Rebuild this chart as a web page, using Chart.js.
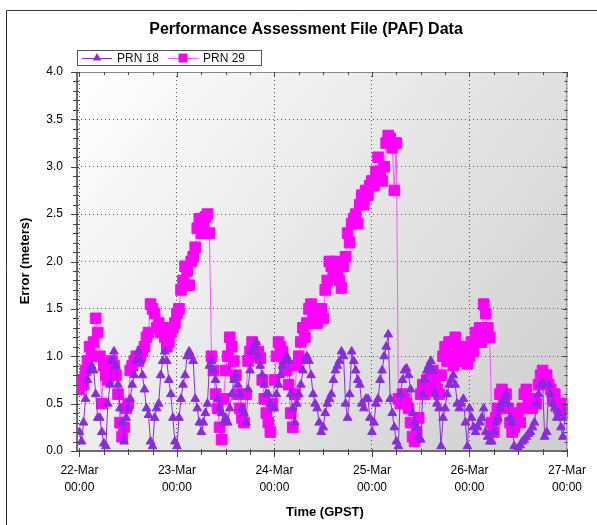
<!DOCTYPE html>
<html>
<head>
<meta charset="utf-8">
<script src="https://cdn.jsdelivr.net/npm/chart.js@4.4.0/dist/chart.umd.min.js"></script>
<style>
  html, body { margin: 0; padding: 0; background: #fff; }
  #wrap { position: relative; width: 597px; height: 525px; overflow: hidden; }
</style>
</head>
<body>
<div id="wrap"><canvas id="pafChart" width="597" height="525"></canvas></div>
<script>
// PAF samples, one every half hour from 22-Mar 00:00 GPST
const stepHours = 0.5;
const dayLabels = ['22-Mar', '23-Mar', '24-Mar', '25-Mar', '26-Mar', '27-Mar'];
const timeLabel = '00:00';
const yTicks = [0, 0.5, 1.0, 1.5, 2.0, 2.5, 3.0, 3.5, 4.0];

// Error (meters), PRN 18
const prn18 = [
    0.2, 0.1, 0.3, 0.55, 0.75, 0.85, 0.9, 0.85, 0.6, 0.35, 0.35, 0.2,
    0.08, 0.05, 0.5, 0.7, 0.95, 1.05, 0.9, 0.7, 0.45, 0.3, 0.1, 0.35,
    0.45, 0.55, 0.7, 0.8, 0.95, 1.05, 0.95, 0.8, 0.65, 0.45, 0.38, 0.1,
    0.05, 0.35, 0.45, 0.5, 0.8, 0.95, 1.05, 0.95, 0.75, 0.6, 0.35, 0.1,
    0.05, 0.35, 0.55, 0.7, 0.8, 1.0, 1.05, 1.0, 0.95, 0.55, 0.45, 0.3,
    0.2, 0.3, 0.4, 0.5, 0.9, 0.95, 0.85, 0.75, 0.55, 0.45, 0.4, 0.3,
    0.35, 0.3, 0.45, 0.6, 0.75, 0.8, 0.7, 0.6, 0.45, 0.4, 0.3, 0.65,
    0.85, 1.05, 1.1, 1.15, 1.0, 0.9, 0.8, 0.7, 0.6, 0.6, 0.5, 0.45,
    0.45, 0.6, 0.7, 0.8, 0.9, 0.95, 1.0, 0.95, 0.6, 0.45, 0.3, 0.5,
    0.6, 0.7, 0.85, 0.95, 1.0, 0.95, 0.8, 0.6, 0.5, 0.45, 0.3, 0.2,
    0.25, 0.4, 0.5, 0.55, 0.6, 0.75, 0.85, 0.9, 0.95, 1.05, 1.0, 0.5,
    0.35, 0.6, 1.05, 0.95, 0.85, 0.75, 0.7, 0.5, 0.45, 0.55, 0.55, 0.35,
    0.2, 0.3, 0.5, 0.55, 0.75, 0.85, 1.0, 1.1, 1.23, 0.55, 0.4, 0.25,
    0.1, 0.05, 0.6, 0.75, 0.85, 0.87, 0.8, 0.65, 0.4, 0.3, 0.25, 0.15,
    0.12, 0.6, 0.75, 0.85, 0.9, 0.95, 0.85, 0.6, 0.5, 0.45, 0.05, 0.35,
    0.45, 0.6, 0.7, 0.75, 0.8, 0.7, 0.5, 0.45, 0.5, 0.55, 0.3, 0.05,
    0.45, 0.35, 0.25, 0.2, 0.25, 0.3, 0.35, 0.45, 0.2, 0.15, 0.1, 0.1,
    0.2, 0.3, 0.35, 0.45, 0.5, 0.55, 0.6, 0.5, 0.35, 0.3, 0.05, 0.0,
    0.03, 0.06, 0.1, 0.12, 0.15, 0.18, 0.2, 0.25, 0.3, 0.5, 0.6, 0.7,
    0.72, 0.15, 0.2, 0.7, 0.6, 0.5, 0.45, 0.35, 0.4, 0.25, 0.15, 0.35,
    0.45
];

// Error (meters), PRN 29
const prn29 = [
    0.65, 0.75, 0.7, 0.85, 0.95, 1.1, 1.0, 1.15, 1.4, 1.25, 1.0, 0.5,
    0.9, 0.8, 0.75, 0.85, 0.95, 0.9, 0.8, 0.6, 0.3, 0.15, 0.25, 0.45,
    0.5, 0.85, 0.9, 0.95, 1.0, 0.95, 1.0, 1.05, 1.1, 1.2, 1.25, 1.55,
    1.5, 1.45, 1.3, 1.35, 1.25, 1.3, 1.2, 1.1, 1.15, 1.25, 1.3, 1.35,
    1.45, 1.5, 1.7, 1.8, 1.95, 1.9, 1.75, 2.0, 2.05, 2.15, 2.35, 2.45,
    2.3, 2.4, 2.47, 2.5, 2.3, 1.0, 0.85, 0.6, 0.45, 0.25, 0.12, 0.55,
    0.85, 1.0, 1.2, 1.1, 0.95, 0.8, 0.6, 0.45, 0.35, 0.3, 0.6, 0.95,
    1.05, 1.15, 1.1, 1.0, 1.05, 0.98, 0.75, 0.55, 0.4, 0.3, 0.2, 0.5,
    0.75, 1.0, 1.15, 1.1, 1.05, 0.9, 0.85, 0.7, 0.4, 0.25, 0.6, 0.9,
    1.0, 1.15, 1.3, 1.2, 1.35, 1.5, 1.55, 1.4, 1.5, 1.35, 1.45, 1.5,
    1.4, 1.7, 1.8, 2.0, 1.95, 1.85, 2.0, 1.9, 1.8, 1.72, 1.95, 2.05,
    2.3, 2.2, 2.4, 2.45, 2.5, 2.4, 2.6, 2.7, 2.6, 2.75, 2.7, 2.8,
    2.85, 2.8, 2.95, 3.1, 2.95, 2.85, 3.0, 3.25, 3.33, 3.3, 3.2, 2.75,
    3.25, 0.55, 0.5, 0.6, 0.55, 0.5, 0.45, 0.3, 0.15, 0.1, 0.2, 0.35,
    0.6, 0.7, 0.6, 0.75, 0.65, 0.8, 0.85, 0.7, 0.65, 0.6, 0.8, 1.0,
    1.1, 0.95, 1.15, 1.0, 0.9, 1.2, 1.1, 1.05, 1.0, 0.95, 1.1, 0.92,
    1.0, 1.15, 1.05, 1.25, 1.2, 1.3, 1.15, 1.55, 1.45, 1.3, 1.2, 0.3,
    0.2, 0.35, 0.45, 0.6, 0.65, 0.55, 0.6, 0.45, 0.3, 0.2, 0.25, 0.35,
    0.4, 0.3, 0.45, 0.6, 0.65, 0.55, 0.5, 0.45, 0.55, 0.5, 0.7, 0.8,
    0.85, 0.75, 0.8, 0.7, 0.65, 0.55, 0.6, 0.5, 0.45, 0.5, 0.4, 0.45,
    0.5
];

// build {x, y} points (x in hours since 22-Mar 00:00)
function toPoints(values) {
    return values.map((v, i) => ({ x: i * stepHours, y: v }));
}

const FONT = '"Liberation Sans", Arial, sans-serif';

// Background gradient, frame, tick marks, title, legend and axis titles
const paafDecor = {
    id: 'pafDecor',
    beforeDraw(chart) {
        const { ctx, chartArea: a } = chart;
        ctx.save();
        ctx.fillStyle = '#fff';
        ctx.fillRect(0, 0, chart.width, chart.height);
        const g = ctx.createLinearGradient(a.left, a.top, a.right, a.bottom);
        g.addColorStop(0, '#ffffff');
        g.addColorStop(1, '#cdcdcd');
        ctx.fillStyle = g;
        ctx.fillRect(a.left, a.top, a.right - a.left, a.bottom - a.top);
        ctx.restore();
    },
    afterDraw(chart) {
        const { ctx, chartArea: a, scales } = chart;
        const xs = scales.x, ys = scales.y;
        ctx.save();

        // outer panel border (only left/top are inside the picture)
        ctx.strokeStyle = '#333';
        ctx.lineWidth = 1;
        ctx.beginPath();
        ctx.moveTo(6.5, chart.height);
        ctx.lineTo(6.5, 10.5);
        ctx.lineTo(chart.width, 10.5);
        ctx.stroke();

        // plot frame
        ctx.strokeStyle = '#8a8a8a';
        ctx.lineWidth = 1;
        ctx.strokeRect(a.left + 0.5, a.top + 0.5, a.right - a.left - 1, a.bottom - a.top - 1);
        ctx.strokeStyle = '#6e6e6e';
        ctx.lineWidth = 2;
        ctx.beginPath();
        ctx.moveTo(a.left, a.top);
        ctx.lineTo(a.left, a.bottom);
        ctx.lineTo(a.right, a.bottom);
        ctx.stroke();

        // tick marks: x every 6 hours, y every 0.1
        ctx.strokeStyle = '#444';
        ctx.lineWidth = 1;
        ctx.beginPath();
        const lastHour = (dayLabels.length - 1) * 24;
        for (let h = 0; h <= lastHour; h += 6) {
            const px = Math.round(xs.getPixelForValue(h)) + 0.5;
            const major = h % 24 === 0;
            ctx.moveTo(px, a.bottom - 2);
            ctx.lineTo(px, a.bottom + (major ? 6 : 4));
            ctx.moveTo(px, a.top);
            ctx.lineTo(px, a.top + (major ? 5 : 3));
        }
        const yMax = yTicks[yTicks.length - 1];
        for (let k = 0; k <= yMax * 10 + 0.001; k++) {
            const py = Math.round(ys.getPixelForValue(k / 10)) + 0.5;
            const major = k % 5 === 0;
            ctx.moveTo(a.left - (major ? 6 : 4), py);
            ctx.lineTo(a.left + 2, py);
            ctx.moveTo(a.right - (major ? 5 : 3), py);
            ctx.lineTo(a.right, py);
        }
        ctx.stroke();

        // title
        ctx.fillStyle = '#000';
        ctx.font = 'bold 16px ' + FONT;
        ctx.textAlign = 'center';
        ctx.textBaseline = 'middle';
        ctx.fillText('Performance Assessment File (PAF) Data', 306, 30);

        // axis titles
        ctx.font = 'bold 13px ' + FONT;
        ctx.fillText('Time (GPST)', 325, 512);
        ctx.save();
        ctx.translate(25, 261);
        ctx.rotate(-Math.PI / 2);
        ctx.fillText('Error (meters)', 0, 0);
        ctx.restore();

        // legend
        ctx.fillStyle = '#fff';
        ctx.fillRect(77, 51, 184, 15);
        ctx.strokeStyle = '#555';
        ctx.strokeRect(77.5, 50.5, 184, 15);
        const ly = 58;
        chart.data.datasets.forEach((ds, i) => {
            const x0 = i === 0 ? 82 : 168;
            ctx.strokeStyle = ds.borderColor;
            ctx.lineWidth = 1;
            ctx.beginPath();
            ctx.moveTo(x0, ly + 0.5);
            ctx.lineTo(x0 + 30, ly + 0.5);
            ctx.stroke();
            Chart.helpers.drawPoint(ctx, {
                pointStyle: ds.pointStyle,
                radius: i === 0 ? 5 : 6,
                borderWidth: 0,
                rotation: 0
            }, x0 + 15, ly);
            ctx.fillStyle = ds.pointBackgroundColor;
            ctx.fill();
            ctx.fillStyle = '#111';
            ctx.font = '12px ' + FONT;
            ctx.textAlign = 'left';
            ctx.fillText(ds.label, x0 + 35, ly + 1);
        });
        ctx.restore();
    }
};

const ctx = document.getElementById('pafChart').getContext('2d');
const pafChart = new Chart(ctx, {
    type: 'scatter',
    data: {
        datasets: [{
            label: 'PRN 18',
            data: toPoints(prn18),
            showLine: true,
            borderColor: '#8a2be2',
            borderWidth: 1,
            pointStyle: 'triangle',
            pointRadius: 5,
            pointBorderWidth: 1,
            pointBackgroundColor: '#8a2be2',
            pointBorderColor: '#8a2be2',
            clip: 0
        }, {
            label: 'PRN 29',
            data: toPoints(prn29),
            showLine: true,
            borderColor: '#ff55ff',
            borderWidth: 1,
            pointStyle: 'rect',
            pointRadius: 7.5,
            pointBorderWidth: 1,
            pointBackgroundColor: '#ff00ff',
            pointBorderColor: '#ff00ff',
            clip: 0
        }]
    },
    options: {
        responsive: false,
        animation: false,
        events: [],
        layout: { padding: { left: 0, right: 26, top: 72, bottom: 0 } },
        plugins: {
            legend: { display: false },
            title: { display: false },
            tooltip: { enabled: false }
        },
        elements: { line: { tension: 0 } },
        scales: {
            x: {
                type: 'linear',
                min: -0.6,
                max: 120.1,
                afterBuildTicks: (s) => { s.ticks = dayLabels.map((d, i) => ({ value: i * 24 })); },
                afterFit: (s) => { s.height = 74; },
                grid: { color: '#555', lineWidth: 1, drawTicks: false },
                border: { display: false, dash: [1, 3] },
                ticks: {
                    padding: 11,
                    autoSkip: false,
                    maxRotation: 0,
                    color: '#000',
                    font: { family: FONT, size: 12, lineHeight: 1.4 },
                    callback: (v, i) => [dayLabels[i], timeLabel]
                }
            },
            y: {
                min: yTicks[0],
                max: yTicks[yTicks.length - 1],
                afterBuildTicks: (s) => { s.ticks = yTicks.map(v => ({ value: v })); },
                afterFit: (s) => { s.width = 77; },
                grid: { color: '#555', lineWidth: 1, drawTicks: false },
                border: { display: false, dash: [1, 3] },
                ticks: {
                    padding: 14,
                    color: '#000',
                    font: { family: FONT, size: 12 },
                    callback: (v) => Number(v).toFixed(1)
                }
            }
        }
    },
    plugins: [paafDecor]
});
</script>
</body>
</html>
